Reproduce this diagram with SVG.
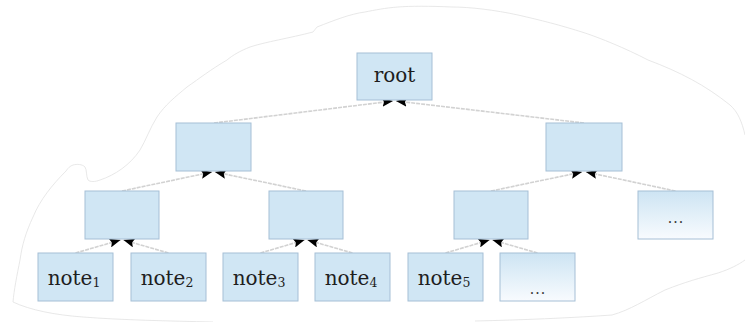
<svg xmlns="http://www.w3.org/2000/svg" width="745" height="322" viewBox="0 0 745 322">
<style>
.box{fill:#d0e6f4;stroke:#a6bfd6;stroke-width:1}
.gbox{fill:url(#g);stroke:#a6bfd6;stroke-width:1}
.lbl{font-family:"DejaVu Serif","Liberation Serif",serif;font-size:20px;fill:#1e1e1e;text-anchor:middle}
.sub{font-size:12.5px}
.dots{font-family:"DejaVu Serif","Liberation Serif",serif;font-size:14px;fill:#333;text-anchor:middle;letter-spacing:1px}
.edge{stroke:#d2d2d2;stroke-width:1.6;stroke-dasharray:4 1;fill:none;marker-end:url(#arr)}
.blob{fill:none;stroke:#e2e2e2;stroke-width:0.8}
</style>
<defs>
<linearGradient id="g" x1="0" y1="0" x2="0" y2="1">
<stop offset="0" stop-color="#cde4f3"/>
<stop offset="1" stop-color="#f8fbfe"/>
</linearGradient>
<marker id="arr" markerUnits="userSpaceOnUse" markerWidth="12" markerHeight="9" refX="11" refY="4.5" orient="auto">
<path d="M0,0 L11,4.5 L0,9 L2,4.5 Z" fill="#000"/>
</marker>
</defs>
<rect width="745" height="322" fill="#fff"/>
<path class="blob" d="M745,135 C742,122 738,112 730,105 C705,85 680,72 648,60 C625,48 600,38 585,33 C560,25 540,20 518,15 C495,10 470,7 452,7 C430,6 410,6 398,7 C385,8 375,10 365,12 C350,14 335,20 317,27 L313,32 C290,38 265,42 250,47 C240,51 233,55 227,60 C210,70 200,78 187,87 C175,97 165,105 157,117 C150,128 146,140 140,150 C130,165 115,175 100,180 C95,182 90,182 88,180 C86,176 87,170 85,167 C82,164 77,164 73,165 C70,166 68,168 66,171 C52,185 40,200 33,217 C26,232 22,245 20,260 C17,275 14,290 13,302 C30,310 55,315 83,317 C120,320 170,321 213,322"/>
<path class="blob" d="M475,321 C520,320 570,318 612,315 C630,310 645,300 665,290 C685,282 700,278 718,273 C730,269 738,265 745,260"/>
<g id="connectors">
<line class="edge" x1="214" y1="123" x2="393" y2="101"/>
<line class="edge" x1="584" y1="123" x2="396" y2="101"/>
<line class="edge" x1="122" y1="191" x2="212" y2="172"/>
<line class="edge" x1="306" y1="191" x2="215" y2="172"/>
<line class="edge" x1="491" y1="191" x2="582" y2="172"/>
<line class="edge" x1="675.5" y1="191" x2="586" y2="172"/>
<line class="edge" x1="75.5" y1="253" x2="120.5" y2="240"/>
<line class="edge" x1="168.5" y1="253" x2="123.5" y2="240"/>
<line class="edge" x1="260.5" y1="253" x2="304.5" y2="240"/>
<line class="edge" x1="352.5" y1="253" x2="307.5" y2="240"/>
<line class="edge" x1="445.5" y1="253" x2="489.5" y2="240"/>
<line class="edge" x1="537.5" y1="253" x2="492.5" y2="240"/>
</g>
<g id="root"><rect class="box" x="357" y="53" width="75" height="47"/><text class="lbl" x="394.5" y="82">root</text></g>
<g id="n1"><rect class="box" x="176" y="123" width="75" height="48"/></g>
<g id="n2"><rect class="box" x="546" y="123" width="76" height="48"/></g>
<g id="n3"><rect class="box" x="85" y="191" width="74" height="48"/></g>
<g id="n4"><rect class="box" x="269" y="191" width="74" height="48"/></g>
<g id="n5"><rect class="box" x="454" y="191" width="74" height="48"/></g>
<g id="n6"><rect class="gbox" x="638" y="191" width="75" height="48"/><text class="dots" x="676" y="223">...</text></g>
<g id="note1"><rect class="box" x="38" y="253" width="75" height="48"/><text class="lbl" x="74" y="285">note<tspan class="sub" dy="2">1</tspan></text></g>
<g id="note2"><rect class="box" x="131" y="253" width="75" height="48"/><text class="lbl" x="167" y="285">note<tspan class="sub" dy="2">2</tspan></text></g>
<g id="note3"><rect class="box" x="223" y="253" width="75" height="48"/><text class="lbl" x="259" y="285">note<tspan class="sub" dy="2">3</tspan></text></g>
<g id="note4"><rect class="box" x="315" y="253" width="75" height="48"/><text class="lbl" x="351" y="285">note<tspan class="sub" dy="2">4</tspan></text></g>
<g id="note5"><rect class="box" x="408" y="253" width="75" height="48"/><text class="lbl" x="444" y="285">note<tspan class="sub" dy="2">5</tspan></text></g>
<g id="more"><rect class="gbox" x="500" y="253" width="75" height="48"/><text class="dots" x="538" y="294">...</text></g>
</svg>
